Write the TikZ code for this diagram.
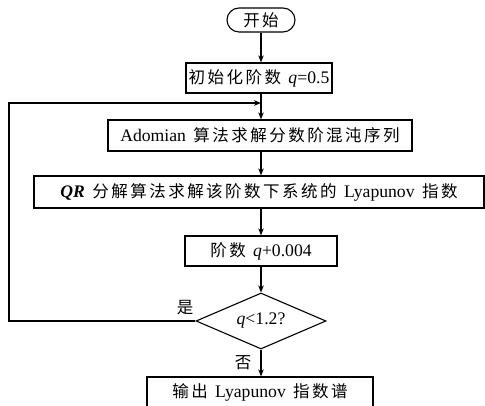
\documentclass[tikz,border=0pt]{standalone}
\usepackage{fontspec}
\setmainfont{Liberation Serif}[Scale=1.07]
\newfontfamily\cjk{Noto Sans CJK SC}[LetterSpace=15]
\newcommand\mixgap{\hspace{0.42em}}
\usetikzlibrary{shapes.geometric,arrows.meta}
\begin{document}
\begin{tikzpicture}[x=1pt,y=1pt,
  font=\fontsize{16.5}{18}\selectfont,
  box/.style={draw,line width=1.2pt,inner sep=0pt,minimum height=30pt},
  term/.style={draw,line width=1.1pt,rounded corners=12pt,minimum width=68pt,minimum height=24pt,inner sep=0pt},
  dec/.style={draw,line width=1.1pt,diamond,aspect=2.3,minimum width=130pt,minimum height=56pt,inner sep=0pt},
  conn/.style={line width=1.1pt,-{Stealth[length=7pt,width=5.5pt,inset=2pt]}},
  lbl/.style={font=\fontsize{16.5}{18}\selectfont\cjk}]
\useasboundingbox (0,0) rectangle (485,406);
\clip (0,0) rectangle (485,406);
\node[term] (start) at (261,386) {\cjk 开始};
\node[box,minimum width=146pt] (init) at (259,328) {{\cjk 初始化阶数}\mixgap\textit{q}=0.5};
\node[box,minimum width=304pt,minimum height=31pt] (ado) at (260,270.5) {Adomian\mixgap{\cjk 算法求解分数阶混沌序列}};
\node[box,minimum width=450pt,minimum height=32pt] (qr) at (259,214) {\textbf{\textit{QR}}\mixgap{\cjk 分解算法求解该阶数下系统的}\mixgap Lyapunov\mixgap{\cjk 指数}};
\node[box,minimum width=152pt] (inc) at (261,155) {{\cjk 阶数}\mixgap\textit{q}+0.004};
\node[dec] (cond) at (261,85) {\textit{q}<1.2?};
\node[box,minimum width=226pt,minimum height=40pt] (out) at (260,9) {\raisebox{12pt}{{\cjk 输出}\mixgap Lyapunov\mixgap{\cjk 指数谱}}};
\coordinate (merge) at (261,303);
\coordinate (c1) at (9,85);
\coordinate (c2) at (9,303);
\draw[conn] (start.south -| 261,0) -- (init.north -| 261,0);
\draw[line width=1.1pt] (init.south -| merge) -- (merge);
\draw[conn] (merge) -- (ado.north -| merge);
\draw[conn] (ado.south -| merge) -- (qr.north -| merge);
\draw[conn] (qr.south -| merge) -- (inc.north -| merge);
\draw[conn] (inc.south -| merge) -- (cond.north);
\draw[conn] (cond.south) -- (out.north -| cond.south);
\draw[conn] (cond.west) -- (c1) -- (c2) -- (merge);
\node[lbl] (yes) at (185,98) {是};
\node[lbl] (no) at (243,43) {否};
\end{tikzpicture}
\end{document}
